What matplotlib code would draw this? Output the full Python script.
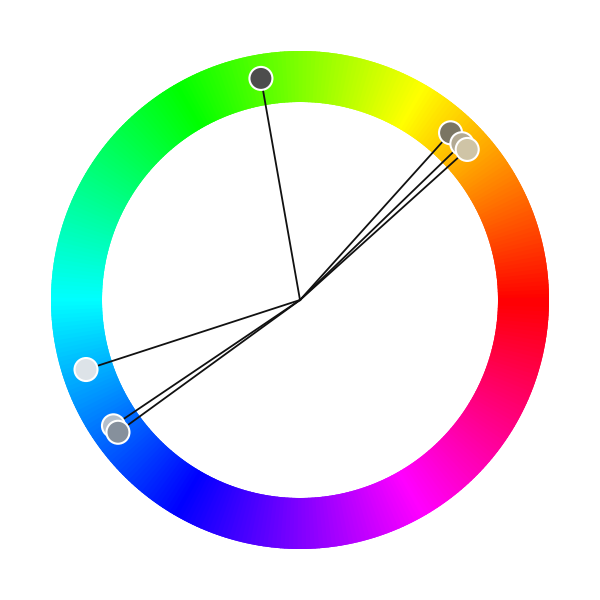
import numpy as np
import matplotlib
matplotlib.use("Agg")
import matplotlib.pyplot as plt
from matplotlib.patches import Wedge, Circle
import colorsys

# data: hue angle (degrees) of each sample colour, and the colour itself
point_angles = [100, 48, 44, 42, 198, 214, 216]
point_colors = ["#4d4d4d", "#7a7563", "#b3aa94", "#cfc4a6", "#dde3e8", "#b5bfcb", "#86909c"]

R_OUT, R_IN = 249, 198
R_PT = 225

fig = plt.figure(figsize=(6, 6), dpi=100)
ax = fig.add_axes([0, 0, 1, 1])
ax.set_xlim(-300, 300)
ax.set_ylim(-300, 300)
ax.set_aspect("equal")
ax.axis("off")

n = 360
for i in range(n):
    h = i / n
    c = colorsys.hsv_to_rgb(h, 1, 1)
    ax.add_patch(Wedge((0, 0), R_OUT, i * 360 / n - 0.6, (i + 1) * 360 / n + 0.6,
                       width=R_OUT - R_IN, facecolor=c, edgecolor="none", lw=0))

for a, col in zip(point_angles, point_colors):
    t = np.deg2rad(a)
    x, y = R_PT * np.cos(t), R_PT * np.sin(t)
    ax.plot([0, x], [0, y], color="#111111", lw=1.3, zorder=3)

for a, col in zip(point_angles, point_colors):
    t = np.deg2rad(a)
    x, y = R_PT * np.cos(t), R_PT * np.sin(t)
    ax.add_patch(Circle((x, y), 11.5, facecolor=col, edgecolor="white", lw=1.5, zorder=4))

fig.savefig("out.png", dpi=100, facecolor="white")
